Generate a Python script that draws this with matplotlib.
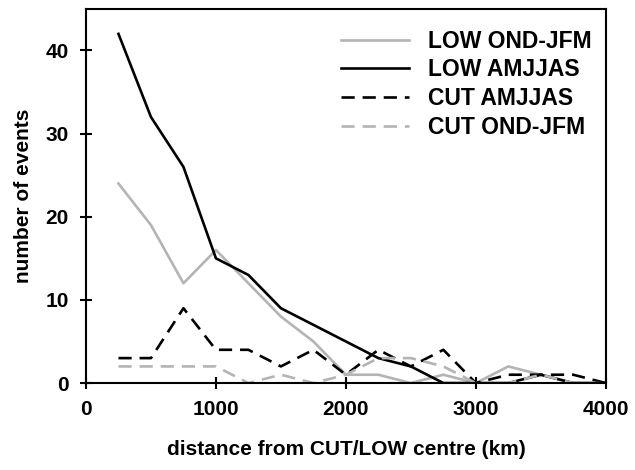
import matplotlib
matplotlib.use("Agg")
import matplotlib.pyplot as plt

plt.rcParams['font.family'] = ['Liberation Sans', 'DejaVu Sans']
plt.rcParams['font.weight'] = 'bold'

# distance bins (km)
distance = [250, 500, 750, 1000, 1250, 1500, 1750, 2000,
            2250, 2500, 2750, 3000, 3250, 3500, 3750, 4000]

low_ondjfm = [24, 19, 12, 16, 12, 8, 5, 1, 1, 0, 1, 0, 2, 1, 0, 0]
low_amjjas = [42, 32, 26, 15, 13, 9, 7, 5, 3, 2, 0, 0, 0, 1, 0, 0]
cut_amjjas = [3, 3, 9, 4, 4, 2, 4, 1, 4, 2, 4, 0, 1, 1, 1, 0]
cut_ondjfm = [2, 2, 2, 2, 0, 1, 0, 1, 3, 3, 2, 0, 0, 1, 0, 0]

grey = '#b4b4b4'
lw = 1.9

fig = plt.figure(figsize=(6.35, 4.7), dpi=100)
ax = fig.add_axes([0.1354, 0.185, 0.8186, 0.796])

ax.plot(distance, low_ondjfm, color=grey, lw=lw, label='LOW OND-JFM')
ax.plot(distance, low_amjjas, color='black', lw=lw, label='LOW AMJJAS')
ax.plot(distance, cut_amjjas, color='black', lw=lw, dashes=(5, 3), label='CUT AMJJAS')
ax.plot(distance, cut_ondjfm, color=grey, lw=lw, dashes=(5, 3), label='CUT OND-JFM')

ax.set_xlim(0, 4000)
ax.set_ylim(0, 45)
ax.set_xticks([0, 1000, 2000, 3000, 4000])
ax.set_yticks([0, 10, 20, 30, 40])
ax.tick_params(direction='inout', length=9, width=1.5, labelsize=15, pad=8,
               top=False, right=False)
for s in ax.spines.values():
    s.set_linewidth(1.5)

ax.set_xlabel('distance from CUT/LOW centre (km)', fontsize=15, fontweight='bold', labelpad=15)
ax.set_ylabel('number of events', fontsize=15, fontweight='bold', labelpad=9)

ax.legend(loc='upper right', frameon=False, fontsize=16.5, handlelength=3.0,
          labelspacing=0.25, handletextpad=0.8, borderaxespad=0.5,
          bbox_to_anchor=(1.012, 1.0))

fig.savefig('out.png', dpi=100)
